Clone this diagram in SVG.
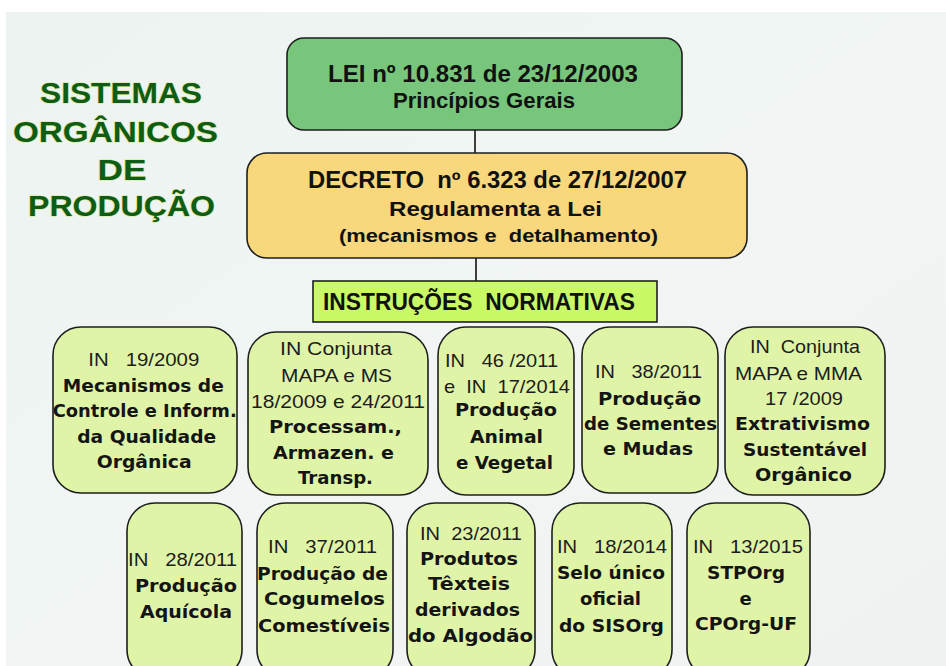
<svg xmlns="http://www.w3.org/2000/svg" width="946" height="666" viewBox="0 0 946 666">
<defs>
<linearGradient id="bg" x1="0" y1="0" x2="1" y2="1">
<stop offset="0" stop-color="#edf3f1"/>
<stop offset="0.5" stop-color="#f1f6f4"/>
<stop offset="1" stop-color="#eef3f1"/>
</linearGradient>
<style>
text{text-anchor:middle;white-space:pre;}
.title{font-family:"Liberation Sans",Arial,sans-serif;font-weight:bold;font-size:29px;fill:#0f5c17;stroke:#d6e48c;stroke-width:1.2px;paint-order:stroke;}
.top{font-family:"Liberation Sans",Arial,sans-serif;font-weight:bold;fill:#111;}
.n{font-family:"Liberation Sans",Arial,sans-serif;font-size:19px;fill:#1c1c1c;}
.b{font-family:"DejaVu Sans",Verdana,sans-serif;font-weight:bold;font-size:18px;fill:#141414;}
.in{fill:#e0f4a8;stroke:#1e1e1e;stroke-width:1.6;}
.conn line{stroke:#111;stroke-width:1.6;}
</style>
</defs>
<rect x="0" y="0" width="946" height="666" fill="#ffffff"/>
<rect x="6" y="12" width="940" height="654" fill="url(#bg)"/>

<g id="title">
<text class="title" x="121" y="103" textLength="162" lengthAdjust="spacingAndGlyphs">SISTEMAS</text>
<text class="title" x="115.5" y="142" textLength="205" lengthAdjust="spacingAndGlyphs">ORGÂNICOS</text>
<text class="title" x="122" y="180" textLength="49" lengthAdjust="spacingAndGlyphs">DE</text>
<text class="title" x="121.5" y="216" textLength="187" lengthAdjust="spacingAndGlyphs">PRODUÇÃO</text>
</g>

<g class="conn" id="connectors">
<line x1="475" y1="130" x2="475" y2="153"/>
<line x1="476" y1="258" x2="476" y2="281"/>
</g>

<g id="lei">
<rect x="287" y="38" width="395" height="92" rx="17" fill="#78c67c" stroke="#1e1e1e" stroke-width="1.6"/>
<text class="top" x="483" y="82" font-size="24" textLength="310" lengthAdjust="spacingAndGlyphs">LEI nº 10.831 de 23/12/2003</text>
<text class="top" x="484" y="108" font-size="22" textLength="182" lengthAdjust="spacingAndGlyphs">Princípios Gerais</text>
</g>

<g id="decreto">
<rect x="247" y="153" width="500" height="105" rx="20" fill="#f8d77d" stroke="#1e1e1e" stroke-width="1.6"/>
<text class="top" x="497.5" y="188" font-size="23" textLength="379" lengthAdjust="spacingAndGlyphs">DECRETO  nº 6.323 de 27/12/2007</text>
<text class="top" x="495.5" y="216" font-size="21" textLength="213" lengthAdjust="spacingAndGlyphs">Regulamenta a Lei</text>
<text class="top" x="498.5" y="242" font-size="18" textLength="319" lengthAdjust="spacingAndGlyphs">(mecanismos e  detalhamento)</text>
</g>

<g id="instrucoes">
<rect x="313" y="281" width="344" height="41" fill="#c9f965" stroke="#1e1e1e" stroke-width="1.6"/>
<text class="top" x="479" y="310" font-size="23" textLength="312" lengthAdjust="spacingAndGlyphs">INSTRUÇÕES  NORMATIVAS</text>
</g>

<g id="in19">
<rect class="in" x="53" y="327" width="184" height="166" rx="28"/>
<text class="n" x="143.8" y="366" textLength="111" lengthAdjust="spacingAndGlyphs">IN   19/2009</text>
<text class="b" x="143.3" y="391.5" textLength="161" lengthAdjust="spacingAndGlyphs">Mecanismos de</text>
<text class="b" x="144.7" y="417" textLength="184" lengthAdjust="spacingAndGlyphs">Controle e Inform.</text>
<text class="b" x="146.7" y="442.5" textLength="139" lengthAdjust="spacingAndGlyphs">da Qualidade</text>
<text class="b" x="144.2" y="468" textLength="95" lengthAdjust="spacingAndGlyphs">Orgânica</text>
</g>

<g id="in-conjunta-ms">
<rect class="in" x="248" y="332" width="180" height="163" rx="28"/>
<text class="n" x="336" y="355" textLength="112" lengthAdjust="spacingAndGlyphs">IN Conjunta</text>
<text class="n" x="336.5" y="382" textLength="111" lengthAdjust="spacingAndGlyphs">MAPA e MS</text>
<text class="n" x="338" y="408" textLength="174" lengthAdjust="spacingAndGlyphs">18/2009 e 24/2011</text>
<text class="b" x="335.5" y="433" textLength="133" lengthAdjust="spacingAndGlyphs">Processam.,</text>
<text class="b" x="333.5" y="459" textLength="121" lengthAdjust="spacingAndGlyphs">Armazen. e</text>
<text class="b" x="335.5" y="484" textLength="75" lengthAdjust="spacingAndGlyphs">Transp.</text>
</g>

<g id="in46">
<rect class="in" x="438" y="327" width="136" height="168" rx="28"/>
<text class="n" x="501.5" y="367" textLength="113" lengthAdjust="spacingAndGlyphs">IN   46 /2011</text>
<text class="n" x="507" y="393" textLength="126" lengthAdjust="spacingAndGlyphs">e  IN  17/2014</text>
<text class="b" x="506" y="416" textLength="102" lengthAdjust="spacingAndGlyphs">Produção</text>
<text class="b" x="506.5" y="443" textLength="73" lengthAdjust="spacingAndGlyphs">Animal</text>
<text class="b" x="504.5" y="469" textLength="97" lengthAdjust="spacingAndGlyphs">e Vegetal</text>
</g>

<g id="in38">
<rect class="in" x="582" y="327" width="136" height="166" rx="28"/>
<text class="n" x="648.5" y="378" textLength="107" lengthAdjust="spacingAndGlyphs">IN   38/2011</text>
<text class="b" x="649.5" y="405" textLength="103" lengthAdjust="spacingAndGlyphs">Produção</text>
<text class="b" x="650.5" y="430" textLength="133" lengthAdjust="spacingAndGlyphs">de Sementes</text>
<text class="b" x="648" y="455" textLength="90" lengthAdjust="spacingAndGlyphs">e Mudas</text>
</g>

<g id="in-conjunta-mma">
<rect class="in" x="725" y="327" width="160" height="168" rx="28"/>
<text class="n" x="805" y="353" textLength="110" lengthAdjust="spacingAndGlyphs">IN  Conjunta</text>
<text class="n" x="798.5" y="380" textLength="127" lengthAdjust="spacingAndGlyphs">MAPA e MMA</text>
<text class="n" x="804" y="405" textLength="78" lengthAdjust="spacingAndGlyphs">17 /2009</text>
<text class="b" x="802.5" y="430" textLength="135" lengthAdjust="spacingAndGlyphs">Extrativismo</text>
<text class="b" x="805" y="456" textLength="124" lengthAdjust="spacingAndGlyphs">Sustentável</text>
<text class="b" x="803.5" y="481" textLength="97" lengthAdjust="spacingAndGlyphs">Orgânico</text>
</g>

<g id="in28">
<rect class="in" x="127" y="503" width="115" height="175" rx="28"/>
<text class="n" x="182.5" y="566" textLength="109" lengthAdjust="spacingAndGlyphs">IN   28/2011</text>
<text class="b" x="186" y="592" textLength="102" lengthAdjust="spacingAndGlyphs">Produção</text>
<text class="b" x="186" y="618" textLength="92" lengthAdjust="spacingAndGlyphs">Aquícola</text>
</g>

<g id="in37">
<rect class="in" x="257" y="503" width="136" height="175" rx="28"/>
<text class="n" x="322.5" y="553" textLength="109" lengthAdjust="spacingAndGlyphs">IN   37/2011</text>
<text class="b" x="322.5" y="580" textLength="131" lengthAdjust="spacingAndGlyphs">Produção de</text>
<text class="b" x="324.5" y="605" textLength="121" lengthAdjust="spacingAndGlyphs">Cogumelos</text>
<text class="b" x="324" y="632" textLength="132" lengthAdjust="spacingAndGlyphs">Comestíveis</text>
</g>

<g id="in23">
<rect class="in" x="407" y="503" width="128" height="175" rx="28"/>
<text class="n" x="471" y="540" textLength="102" lengthAdjust="spacingAndGlyphs">IN  23/2011</text>
<text class="b" x="469" y="565" textLength="98" lengthAdjust="spacingAndGlyphs">Produtos</text>
<text class="b" x="469" y="590" textLength="82" lengthAdjust="spacingAndGlyphs">Têxteis</text>
<text class="b" x="467.5" y="616" textLength="105" lengthAdjust="spacingAndGlyphs">derivados</text>
<text class="b" x="470.5" y="642" textLength="125" lengthAdjust="spacingAndGlyphs">do Algodão</text>
</g>

<g id="in18">
<rect class="in" x="552" y="503" width="120" height="175" rx="28"/>
<text class="n" x="612" y="553" textLength="110" lengthAdjust="spacingAndGlyphs">IN   18/2014</text>
<text class="b" x="611" y="579" textLength="108" lengthAdjust="spacingAndGlyphs">Selo único</text>
<text class="b" x="610.5" y="605" textLength="61" lengthAdjust="spacingAndGlyphs">oficial</text>
<text class="b" x="611.5" y="632" textLength="105" lengthAdjust="spacingAndGlyphs">do SISOrg</text>
</g>

<g id="in13">
<rect class="in" x="687" y="503" width="123" height="175" rx="28"/>
<text class="n" x="748" y="553" textLength="110" lengthAdjust="spacingAndGlyphs">IN   13/2015</text>
<text class="b" x="746" y="579" textLength="78" lengthAdjust="spacingAndGlyphs">STPOrg</text>
<text class="b" x="745.5" y="605">e</text>
<text class="b" x="746" y="630" textLength="102" lengthAdjust="spacingAndGlyphs">CPOrg-UF</text>
</g>
</svg>
